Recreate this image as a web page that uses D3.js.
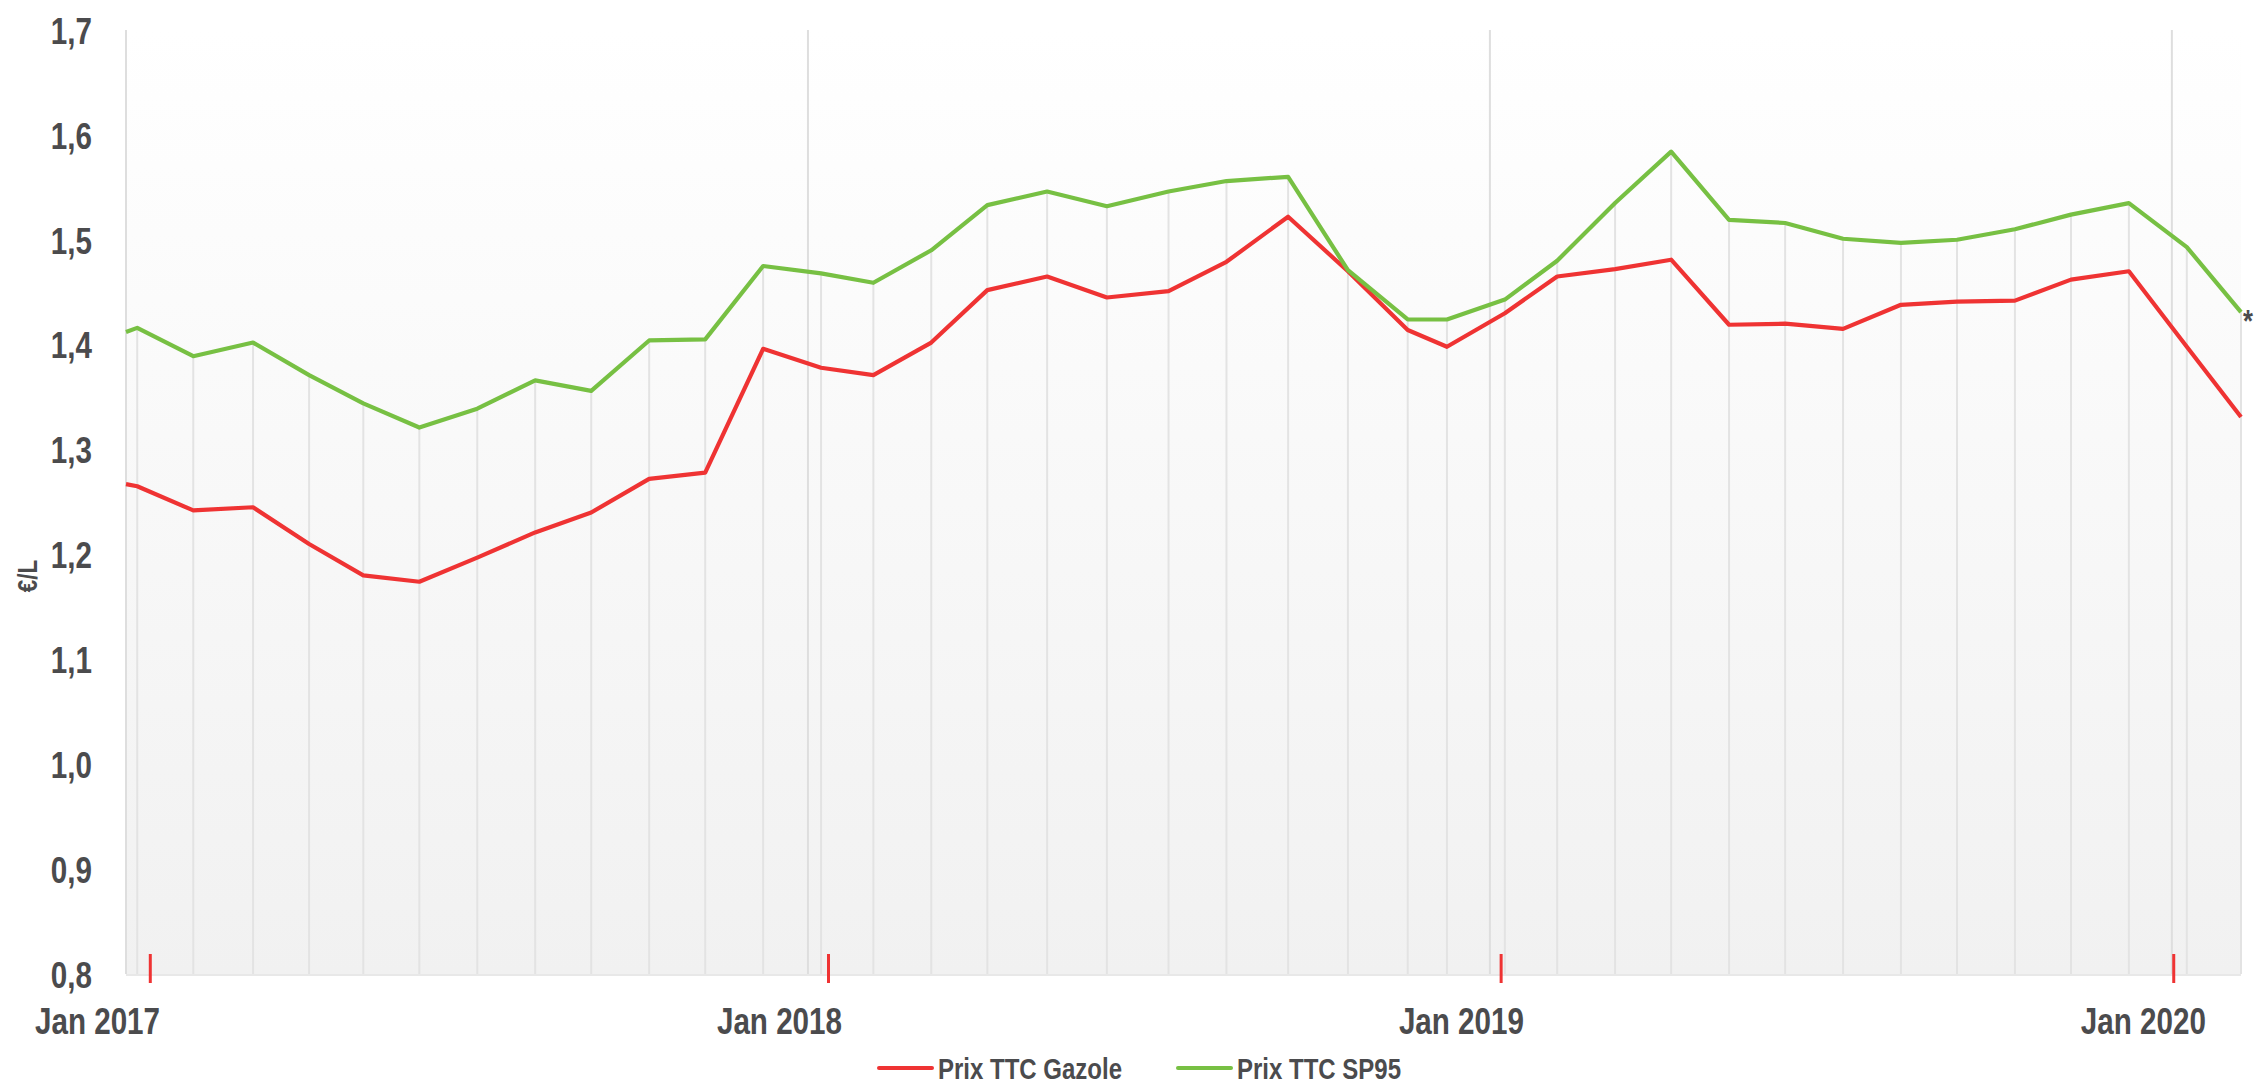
<!DOCTYPE html>
<html lang="fr">
	<head>
		<meta charset="utf-8">
		<title>Prix TTC Gazole / SP95</title>
		<script type="text/javascript" src="https://d3js.org/d3.v7.min.js"></script>
		<style type="text/css">
			body {
				margin: 0;
				background: #ffffff;
			}
			text {
				font-family: "Liberation Sans", Arial, sans-serif;
				font-weight: bold;
				fill: #4b4b4d;
			}
		</style>
	</head>

<body>

<script type="text/javascript">

// relevés (dates approximatives)
const dates = [
    "2017-01-01", "2017-01-07", "2017-02-06", "2017-03-10", "2017-04-09", "2017-05-08",
    "2017-06-07", "2017-07-08", "2017-08-08", "2017-09-07", "2017-10-08", "2017-11-07",
    "2017-12-08", "2018-01-08", "2018-02-05", "2018-03-08", "2018-04-07", "2018-05-09",
    "2018-06-10", "2018-07-13", "2018-08-13", "2018-09-15", "2018-10-17", "2018-11-18",
    "2018-12-09", "2019-01-09", "2019-02-06", "2019-03-09", "2019-04-08", "2019-05-09",
    "2019-06-08", "2019-07-09", "2019-08-09", "2019-09-08", "2019-10-09", "2019-11-08",
    "2019-12-09", "2020-01-09", "2020-02-07"
];

const gazole = [
    1.267, 1.265, 1.242, 1.245, 1.210, 1.180, 1.174, 1.197, 1.221, 1.240, 1.272, 1.278,
    1.396, 1.378, 1.371, 1.402, 1.452, 1.465, 1.445, 1.451, 1.479, 1.522, 1.470, 1.414,
    1.398, 1.430, 1.465, 1.472, 1.481, 1.419, 1.420, 1.415, 1.438, 1.441, 1.442, 1.462,
    1.470, 1.398, 1.331
];

const sp95 = [
    1.412, 1.416, 1.389, 1.402, 1.371, 1.344, 1.321, 1.339, 1.366, 1.356, 1.404, 1.405,
    1.475, 1.468, 1.459, 1.490, 1.533, 1.546, 1.532, 1.546, 1.556, 1.560, 1.471, 1.424,
    1.424, 1.443, 1.480, 1.535, 1.584, 1.519, 1.516, 1.501, 1.497, 1.500, 1.510, 1.524,
    1.535, 1.493, 1.431
];

const yearStarts = ["2017-01-01", "2018-01-01", "2019-01-01", "2020-01-01"];
const yearLabels = ["Jan 2017", "Jan 2018", "Jan 2019", "Jan 2020"];
const markDates = ["2017-01-14", "2018-01-12", "2019-01-07", "2020-01-02"];
const yTicks = [0.8, 0.9, 1.0, 1.1, 1.2, 1.3, 1.4, 1.5, 1.6, 1.7];

const series = [
    { name: "Prix TTC Gazole", values: gazole, color: "#ef3333" },
    { name: "Prix TTC SP95", values: sp95, color: "#77c043" }
];

const w = 2257;
const h = 1084;

const plotLeft = 126;
const plotRight = 2241;
const plotTop = 30;
const plotBottom = 974;

// pas de police "narrow" installée : on resserre la Liberation Sans
const squeeze = 0.8;
const narrow = (dx, dy) => "translate(" + dx + "," + dy + ") scale(" + squeeze + ",1)";

const parse = d3.utcParse("%Y-%m-%d");
const points = dates.map(parse);

const svg = d3.select("body")
              .append("svg")
              .attr("width", w)
              .attr("height", h);

const xScale = d3.scaleUtc()
                 .domain([parse("2017-01-01"), parse("2020-02-07")])
                 .range([plotLeft, plotRight]);

const yScale = d3.scaleLinear()
                 .domain([0.8, 1.7])
                 .range([plotBottom, plotTop]);

// fond dégradé
const grad = svg.append("defs")
                .append("linearGradient")
                .attr("id", "bg")
                .attr("x1", 0).attr("y1", 0)
                .attr("x2", 0).attr("y2", 1);
grad.append("stop").attr("offset", "0%").attr("stop-color", "#ffffff");
grad.append("stop").attr("offset", "100%").attr("stop-color", "#f1f1f1");

svg.append("rect")
   .attr("x", plotLeft)
   .attr("y", plotTop)
   .attr("width", plotRight - plotLeft)
   .attr("height", plotBottom - plotTop)
   .attr("fill", "url(#bg)");

svg.append("line")
   .attr("x1", plotLeft).attr("x2", plotRight)
   .attr("y1", plotBottom + 1).attr("y2", plotBottom + 1)
   .attr("stroke", "#e8e8e8")
   .attr("stroke-width", 2);

// lignes de chute sous chaque relevé
svg.append("g")
   .selectAll("line")
   .data(points)
   .enter()
   .append("line")
   .attr("x1", (d) => xScale(d))
   .attr("x2", (d) => xScale(d))
   .attr("y1", (d, i) => yScale(Math.max(gazole[i], sp95[i])))
   .attr("y2", plotBottom)
   .attr("stroke", "#e3e3e3")
   .attr("stroke-width", 2);

// séparations annuelles
svg.append("g")
   .selectAll("line")
   .data(yearStarts.map(parse))
   .enter()
   .append("line")
   .attr("x1", (d) => xScale(d))
   .attr("x2", (d) => xScale(d))
   .attr("y1", plotTop)
   .attr("y2", plotBottom)
   .attr("stroke", "#dedede")
   .attr("stroke-width", 2);

// axe Y
const yAxis = d3.axisLeft(yScale)
                .tickValues(yTicks)
                .tickSize(0)
                .tickFormat((d) => d3.format(".1f")(d).replace(".", ","));

const yG = svg.append("g")
              .attr("transform", "translate(" + plotLeft + ",0)")
              .call(yAxis);
yG.select(".domain").remove();
yG.selectAll("text")
  .attr("x", 0)
  .attr("dy", "0.36em")
  .attr("transform", narrow(-34, 0))
  .style("font-size", "37px");

// axe X
const xAxis = d3.axisBottom(xScale)
                .tickValues(yearStarts.map(parse))
                .tickSize(0)
                .tickFormat((d, i) => yearLabels[i]);

const xG = svg.append("g")
              .attr("transform", "translate(0," + plotBottom + ")")
              .call(xAxis);
xG.select(".domain").remove();
xG.selectAll("text")
  .attr("y", 0)
  .attr("dy", "0.71em")
  .attr("transform", narrow(-29, 34))
  .style("font-size", "37px");

// repères rouges
svg.append("g")
   .selectAll("line")
   .data(markDates.map(parse))
   .enter()
   .append("line")
   .attr("x1", (d) => xScale(d))
   .attr("x2", (d) => xScale(d))
   .attr("y1", plotBottom - 20)
   .attr("y2", plotBottom + 9)
   .attr("stroke", "#ef3333")
   .attr("stroke-width", 3);

// courbes
const line = d3.line()
               .x((d, i) => xScale(points[i]))
               .y((d) => yScale(d));

svg.selectAll("path.serie")
   .data(series)
   .enter()
   .append("path")
   .attr("class", "serie")
   .attr("d", (d) => line(d.values))
   .attr("fill", "none")
   .attr("stroke", (d) => d.color)
   .attr("stroke-width", 4.2)
   .attr("stroke-linejoin", "round");

svg.append("text")
   .attr("transform", narrow(xScale(points[points.length - 1]) + 2, yScale(sp95[sp95.length - 1]) + 20))
   .style("font-size", "32px")
   .text("*");

// titre axe Y
svg.append("text")
   .attr("transform", "translate(37,576) rotate(-90) scale(" + squeeze + ",1)")
   .style("text-anchor", "middle")
   .style("font-size", "28px")
   .text("€/L");

// légende
const legendX = [879, 1178];
const legend = svg.append("g")
                  .selectAll("g")
                  .data(series)
                  .enter()
                  .append("g")
                  .attr("transform", (d, i) => "translate(" + legendX[i] + ",1068)");

legend.append("line")
      .attr("x1", 0).attr("x2", 53)
      .attr("y1", 0).attr("y2", 0)
      .attr("stroke", (d) => d.color)
      .attr("stroke-width", 4)
      .attr("stroke-linecap", "round");

legend.append("text")
      .attr("dy", "0.36em")
      .attr("transform", narrow(59, 0))
      .style("font-size", "30px")
      .text((d) => d.name);

</script>
</body>
</html>
